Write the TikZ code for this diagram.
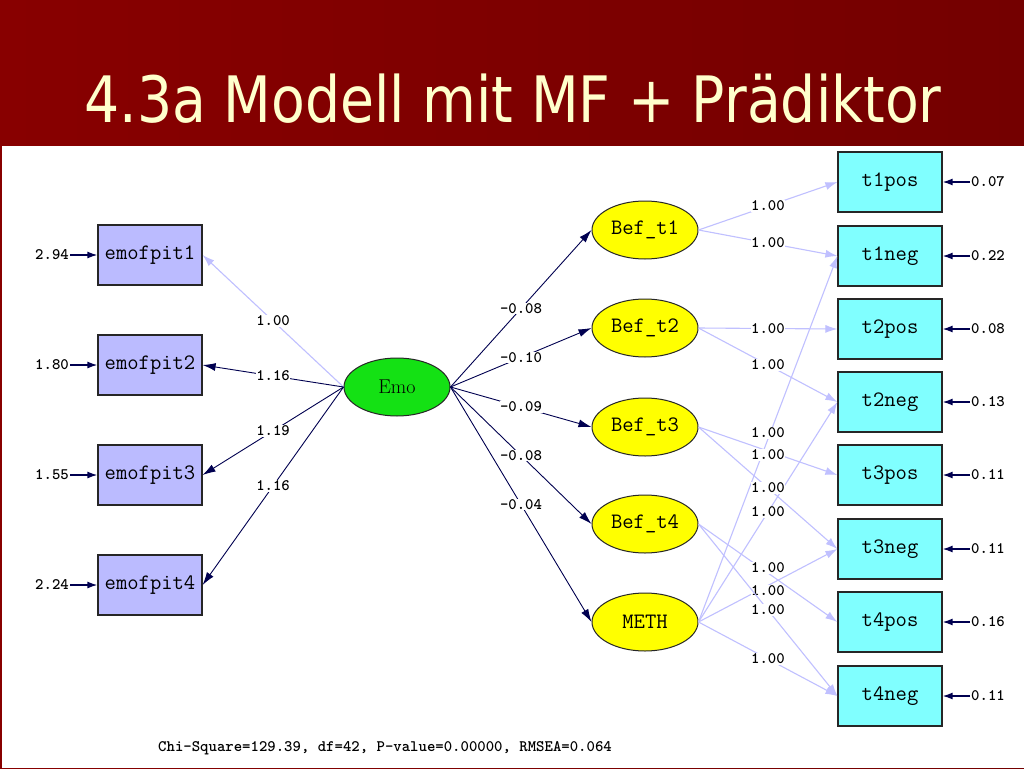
\documentclass[tikz,border=0pt]{standalone}
\usepackage{fontspec}
\usepackage{graphicx}
\newfontfamily\titlefont{DejaVu Sans}
\usetikzlibrary{shapes.geometric,arrows.meta}
\definecolor{maroonA}{RGB}{136,0,0}
\definecolor{maroonB}{RGB}{116,0,0}
\definecolor{cream}{RGB}{255,255,204}
\definecolor{lav}{RGB}{187,187,255}
\definecolor{cyanbox}{RGB}{128,255,255}
\definecolor{emogreen}{RGB}{20,225,20}
\definecolor{befyellow}{RGB}{255,255,0}
\definecolor{pathnavy}{RGB}{0,0,80}
\definecolor{pathlight}{RGB}{192,192,255}
\begin{document}
\begin{tikzpicture}[x=1pt,y=-1pt,
  obsleft/.style={draw=black!85, line width=1.2pt, fill=lav, minimum width=104pt, minimum height=60pt, inner sep=0pt, font=\ttfamily\fontsize{22}{22}\selectfont},
  obsright/.style={obsleft, fill=cyanbox},
  latent/.style={ellipse, draw=black!85, line width=1pt, fill=befyellow, minimum width=106pt, minimum height=58pt, inner sep=0pt, font=\ttfamily\fontsize{22}{22}\selectfont},
  dark/.style={draw=pathnavy, line width=0.9pt, -{Latex[length=13pt,width=8pt]}},
  light/.style={draw=pathlight, line width=1.1pt, -{Latex[length=12pt,width=8pt]}},
  coef/.style={midway, fill=white, inner sep=0.5pt, text=black, font=\ttfamily\bfseries\fontsize{16}{16}\selectfont},
  errlab/.style={inner sep=1pt, font=\ttfamily\bfseries\fontsize{16}{16}\selectfont},
  errarrow/.style={draw=pathnavy, line width=1.4pt, -{Latex[length=10pt,width=7pt]}},
]
\useasboundingbox (0,0) rectangle (1024,768);
\shade[left color=maroonA, right color=maroonB] (0,0) rectangle (1024,768);
\fill[white] (2,146) rectangle (1024,768);

% title
\node[anchor=base, text=cream, inner sep=0pt] (title) at (513,122)
  {\resizebox{857pt}{\height}{\titlefont\fontsize{64}{64}\selectfont 4.3a Modell mit MF + Prädiktor}};

% left indicators
\node[obsleft] (e1) at (150,255) {emofpit1};
\node[obsleft] (e2) at (150,365) {emofpit2};
\node[obsleft] (e3) at (150,475) {emofpit3};
\node[obsleft] (e4) at (150,585) {emofpit4};

% latent variables
\node[latent, fill=emogreen, font=\rmfamily\fontsize{20}{20}\selectfont] (emo) at (397,387) {Emo};
\node[latent] (b1) at (645,230) {Bef\_t1};
\node[latent] (b2) at (645,328) {Bef\_t2};
\node[latent] (b3) at (645,427) {Bef\_t3};
\node[latent] (b4) at (645,524) {Bef\_t4};
\node[latent] (meth) at (645,622) {METH};

% right indicators
\node[obsright] (t1p) at (890,182) {t1pos};
\node[obsright] (t1n) at (890,256) {t1neg};
\node[obsright] (t2p) at (890,329) {t2pos};
\node[obsright] (t2n) at (890,402) {t2neg};
\node[obsright] (t3p) at (890,475) {t3pos};
\node[obsright] (t3n) at (890,549) {t3neg};
\node[obsright] (t4p) at (890,622) {t4pos};
\node[obsright] (t4n) at (890,696) {t4neg};

% loadings of Emo
\draw[light] (emo.west) -- (e1.east) node[coef] {1.00};
\draw[dark] (emo.west) -- (e2.east) node[coef] {1.16};
\draw[dark] (emo.west) -- (e3.east) node[coef] {1.19};
\draw[dark] (emo.west) -- (e4.east) node[coef] {1.16};

% structural paths
\draw[dark] (emo.east) -- (b1.west) node[coef] {-0.08};
\draw[dark] (emo.east) -- (b2.west) node[coef] {-0.10};
\draw[dark] (emo.east) -- (b3.west) node[coef] {-0.09};
\draw[dark] (emo.east) -- (b4.west) node[coef] {-0.08};
\draw[dark] (emo.east) -- (meth.west) node[coef] {-0.04};

% method factor loadings
\draw[light] (meth.east) -- (t1n.west) node[coef, yshift=6pt] {1.00};
\draw[light] (meth.east) -- (t2n.west) node[coef] {1.00};
\draw[light] (meth.east) -- (t3n.west) node[coef, yshift=-5pt] {1.00};
\draw[light] (meth.east) -- (t4n.west) node[coef] {1.00};

% trait loadings
\draw[light] (b1.east) -- (t1p.west) node[coef] {1.00};
\draw[light] (b1.east) -- (t1n.west) node[coef] {1.00};
\draw[light] (b2.east) -- (t2p.west) node[coef] {1.00};
\draw[light] (b2.east) -- (t2n.west) node[coef] {1.00};
\draw[light] (b3.east) -- (t3p.west) node[coef, yshift=-4pt] {1.00};
\draw[light] (b3.east) -- (t3n.west) node[coef] {1.00};
\draw[light] (b4.east) -- (t4p.west) node[coef, yshift=5pt] {1.00};
\draw[light] (b4.east) -- (t4n.west) node[coef] {1.00};

% error variances left
\node[errlab] (d1) at (52,255) {2.94};
\node[errlab] (d2) at (52,365) {1.80};
\node[errlab] (d3) at (52,475) {1.55};
\node[errlab] (d4) at (52,585) {2.24};
\draw[errarrow] (d1) -- (e1);
\draw[errarrow] (d2) -- (e2);
\draw[errarrow] (d3) -- (e3);
\draw[errarrow] (d4) -- (e4);

% error variances right
\node[errlab, anchor=west] (r1) at (970,182) {0.07};
\node[errlab, anchor=west] (r2) at (970,256) {0.22};
\node[errlab, anchor=west] (r3) at (970,329) {0.08};
\node[errlab, anchor=west] (r4) at (970,402) {0.13};
\node[errlab, anchor=west] (r5) at (970,475) {0.11};
\node[errlab, anchor=west] (r6) at (970,549) {0.11};
\node[errlab, anchor=west] (r7) at (970,622) {0.16};
\node[errlab, anchor=west] (r8) at (970,696) {0.11};
\draw[errarrow] (r1) -- (t1p);
\draw[errarrow] (r2) -- (t1n);
\draw[errarrow] (r3) -- (t2p);
\draw[errarrow] (r4) -- (t2n);
\draw[errarrow] (r5) -- (t3p);
\draw[errarrow] (r6) -- (t3n);
\draw[errarrow] (r7) -- (t4p);
\draw[errarrow] (r8) -- (t4n);

% fit statistics
\node[errlab] (fit) at (385,748) {Chi-Square=129.39, df=42, P-value=0.00000, RMSEA=0.064};
\end{tikzpicture}
\end{document}
